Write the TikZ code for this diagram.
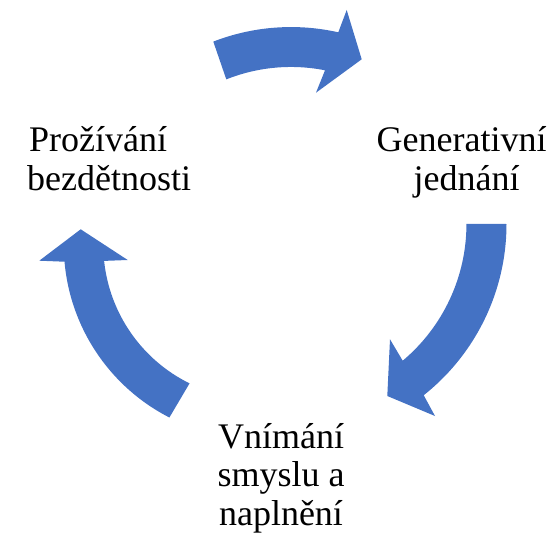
\documentclass[tikz,border=0pt]{standalone}
\usepackage{fontspec}
\setmainfont{Liberation Serif}
\usepackage{xcolor}
\definecolor{cycleblue}{HTML}{4472C4}

\begin{document}
\begin{tikzpicture}[x=1pt,y=1pt,
    stage/.style={align=center,anchor=base,inner sep=0pt,font=\fontsize{36}{38.3}\selectfont},
    blockarrow/.style={fill=cycleblue,draw=none}]
  \useasboundingbox (0,0) rectangle (555,-535);
  \node[stage] (childless) at (109.2,-190) {Prožívání\makebox[22pt]{}\\bezdětnosti};
  \node[stage] (generative) at (461.7,-190) {Generativní\\\makebox[10pt]{}jednání};
  \node[stage] (meaning) at (281,-525) {Vnímání\\smyslu a\\naplnění};
  % top arrow
  \fill[blockarrow] (213.3,-41.6) arc[start angle=111.2,end angle=77.3,radius=215]
    -- (346.7,-10) -- (361.7,-59.3) -- (316,-92.7)
    -- (325,-70.3) arc[start angle=78.8,end angle=111.7,radius=175] -- cycle;
  % right arrow
  \fill[blockarrow] (506.5,-224) arc[start angle=0,end angle=-51.6,radius=218.5]
    -- (435,-416) -- (387.3,-396) -- (390,-339.3)
    -- (402.7,-360.7) arc[start angle=-50,end angle=0,radius=178.5] -- cycle;
  % left arrow
  \fill[blockarrow] (169.4,-417.5) arc[start angle=242.9,end angle=185,radius=194]
    -- (39.3,-260.7) -- (80.7,-229.3) -- (127.7,-260)
    -- (104.1,-260.9) arc[start angle=186,end angle=243.8,radius=154.5] -- cycle;
\end{tikzpicture}
\end{document}
